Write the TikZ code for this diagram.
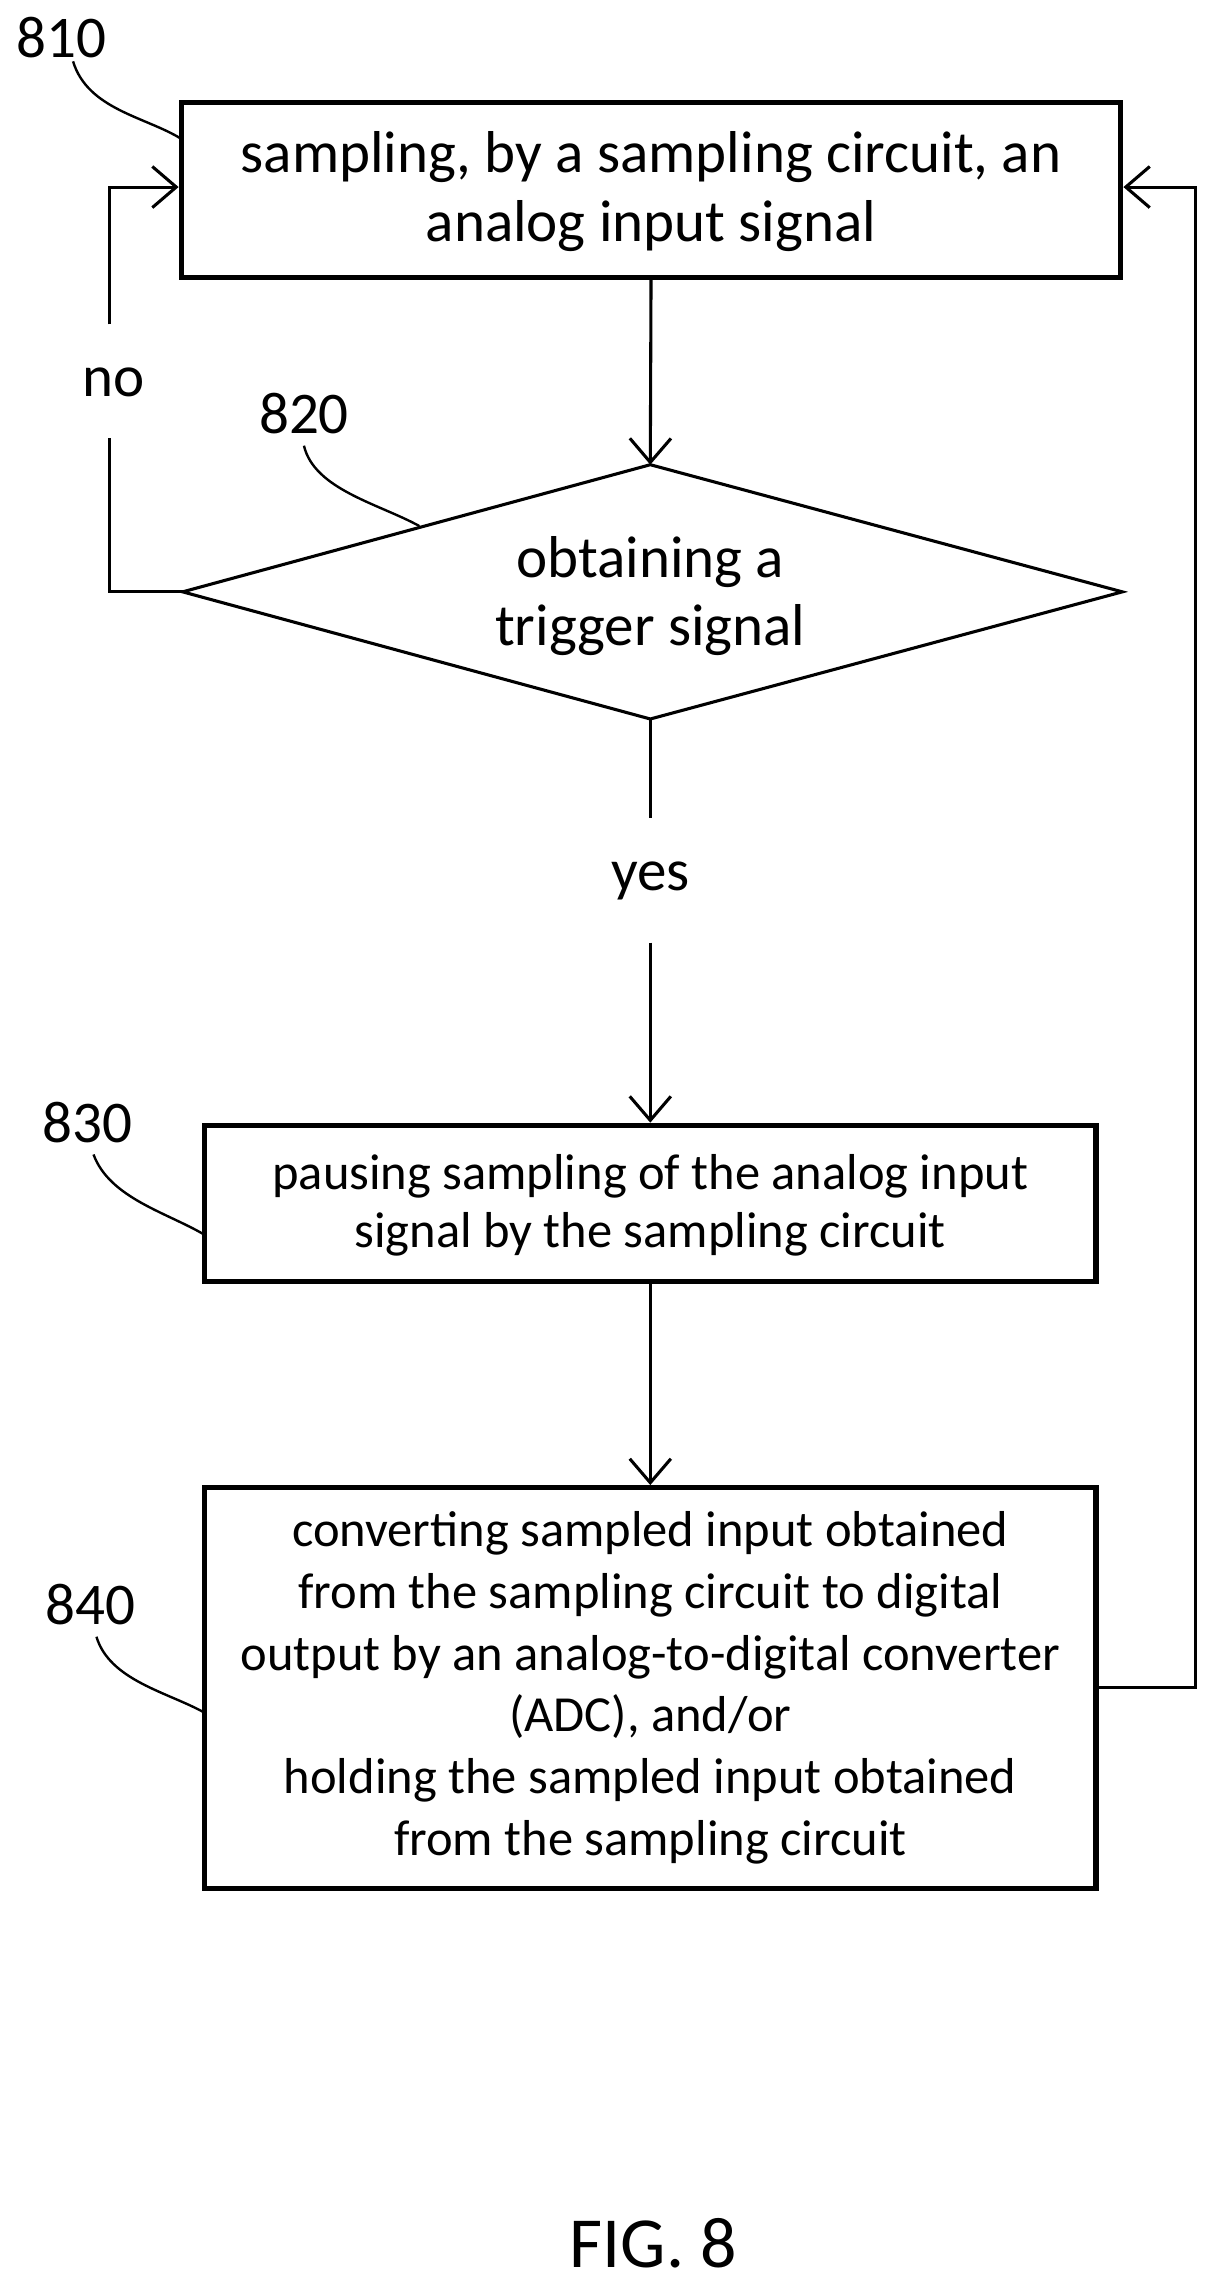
\documentclass[tikz,border=0pt]{standalone}
\usepackage{fontspec}
\setmainfont{Carlito}
\usetikzlibrary{arrows.meta}
\begin{document}
\begin{tikzpicture}[x=0.03cm,y=-0.03cm,
  box/.style={draw,line width=3pt,inner sep=0pt},
  ln/.style={line width=1.8pt},
  arr/.style={ln,-{Straight Barb[length=14pt,width=24pt,line width=1.8pt]}},
  lead/.style={line width=1.4pt},
  txt/.style={align=center,inner sep=0pt},
  A/.style={font=\fontsize{34.5}{40}\selectfont},
  B/.style={font=\fontsize{29.5}{34}\selectfont},
  C/.style={font=\fontsize{29.5}{36}\selectfont}]
\useasboundingbox (0,0) rectangle (832,1565);
\node[box,minimum width=643*0.03cm,minimum height=120*0.03cm] (b810) at (445.5,130) {};
\node[txt,A] at (445.5,131) {sampling, by a sampling circuit, an\\analog input signal};
\coordinate (dt) at (445,318); \coordinate (db) at (445,492);
\coordinate (dl) at (125,405); \coordinate (dr) at (768,405);
\draw[ln] (dt)--(dr)--(db)--(dl)--cycle;
\node[txt,A] (d820) at (445,408) {obtaining a\\trigger signal};
\node[box,minimum width=610*0.03cm,minimum height=107*0.03cm] (b830) at (445,823.5) {};
\node[txt,B] at (445,825) {pausing sampling of the analog input\\signal by the sampling circuit};
\node[box,minimum width=610*0.03cm,minimum height=274*0.03cm] (b840) at (445,1155) {};
\node[txt,C] at (445,1155) {converting sampled input obtained\\from the sampling circuit to digital\\output by an analog-to-digital converter\\(ADC), and/or\\holding the sampled input obtained\\from the sampling circuit};
% connectors
\draw[arr] (b810.south) -- (dt);
\coordinate (n1) at (75,222); \coordinate (n2) at (75,300);
\node[txt,A] (no) at (78,262) {no};
\draw[ln] (dl) -- (75,405) -- (n2);
\draw[arr] (n1) -- (75,128) -- (b810.west|-75,128);
\coordinate (y1) at (445,560); \coordinate (y2) at (445,645);
\node[txt,A] (yes) at (445,603) {yes};
\draw[ln] (db) -- (y1);
\draw[arr] (y2) -- (b830.north);
\draw[arr] (b830.south) -- (b840.north);
\draw[arr] (b840.east|-0,1155) -- (818,1155) -- (818,128) -- (b810.east|-0,128);
% labels
\node[txt,A] (l810) at (42,26) {810};
\draw[lead] (50,42) .. controls (60,75) and (100,80) .. (124,95);
\node[txt,A] (l820) at (208,283) {820};
\draw[lead] (208,305) .. controls (215,335) and (260,345) .. (287,360);
\node[txt,A] (l830) at (60,768) {830};
\draw[lead] (64,790) .. controls (75,820) and (115,830) .. (140,845);
\node[txt,A] (l840) at (62,1098) {840};
\draw[lead] (66,1120) .. controls (75,1150) and (115,1158) .. (140,1172);
\node[txt,font=\fontsize{42}{48}\selectfont] (fig) at (447,1535) {FIG. 8};
\end{tikzpicture}
\end{document}
